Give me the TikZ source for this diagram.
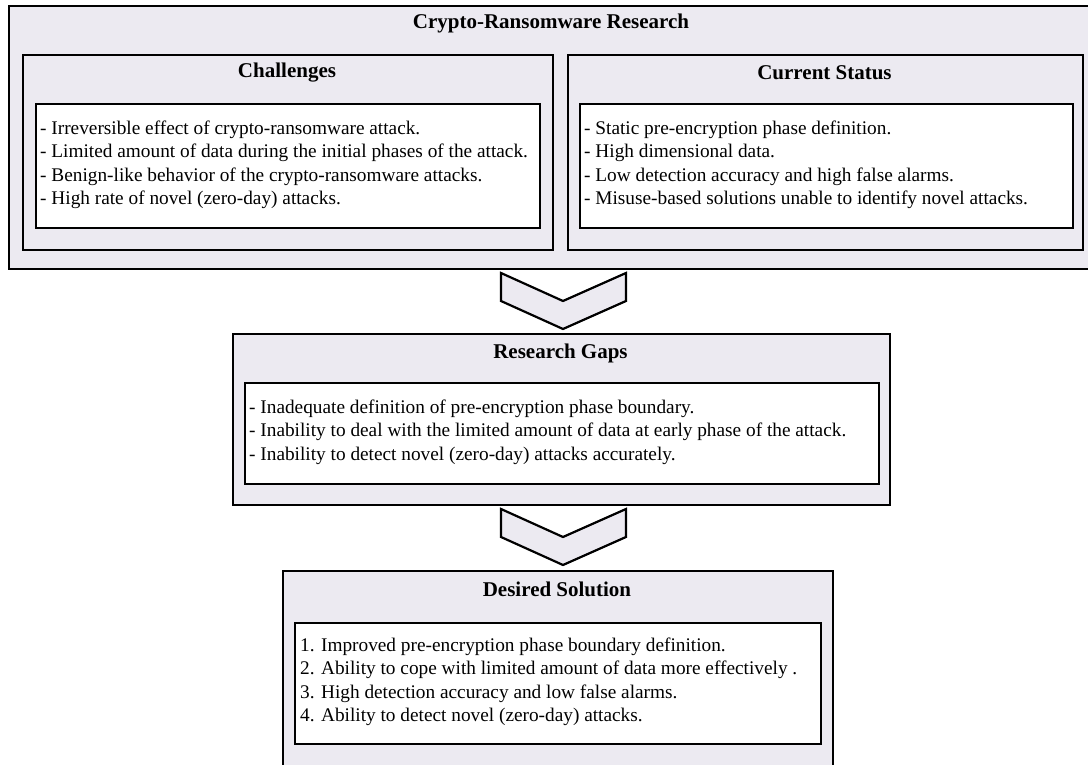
\documentclass[tikz,border=0pt]{standalone}
\usepackage{fontspec}
\setmainfont{Liberation Serif}
\definecolor{panel}{RGB}{236,234,241}
\begin{document}
\begin{tikzpicture}[x=1pt,y=-1pt,
  panelbox/.style={draw=black, line width=2.2pt, fill=panel, anchor=north west, inner sep=0pt},
  whitebox/.style={draw=black, line width=2.2pt, fill=white, anchor=north west, inner sep=0pt},
  ttl/.style={font=\fontsize{21}{24}\selectfont\bfseries, inner sep=0pt},
  body/.style={font=\fontsize{19.3}{23.5}\selectfont, align=left, anchor=west, inner sep=0pt},
  chev/.style={draw=black, line width=2.2pt, fill=panel, line join=miter}]
\useasboundingbox (0,0) rectangle (1088,765);
% outer panel
\node[panelbox, minimum width=1086pt, minimum height=263pt] (outer) at (8,5) {};
\node[ttl] (outerT) at (551,23) {Crypto-Ransomware Research};
% challenges
\node[panelbox, minimum width=530pt, minimum height=195pt] (chal) at (22,54) {};
\node[ttl] (chalT) at (287,73) {Challenges};
\node[whitebox, minimum width=504pt, minimum height=124pt] (chalW) at (35,103) {};
\node[body] (chalX) at (40,165) {- Irreversible effect of crypto-ransomware attack.\\
- Limited amount of data during the initial phases of the attack.\\
- Benign-like behavior of the crypto-ransomware attacks.\\
- High rate of novel (zero-day) attacks.};
% current status
\node[panelbox, minimum width=515pt, minimum height=195pt] (cur) at (567,54) {};
\node[ttl] (curT) at (824.5,73) {Current Status};
\node[whitebox, minimum width=493pt, minimum height=124pt] (curW) at (579,103) {};
\node[body] (curX) at (584,165) {- Static pre-encryption phase definition.\\
- High dimensional data.\\
- Low detection accuracy and high false alarms.\\
- Misuse-based solutions unable to identify novel attacks.};
% research gaps
\node[panelbox, minimum width=657pt, minimum height=171pt] (gaps) at (232,333) {};
\node[ttl] (gapsT) at (560.5,353) {Research Gaps};
\node[whitebox, minimum width=634pt, minimum height=101pt] (gapsW) at (244,382) {};
\node[body] (gapsX) at (249,432) {- Inadequate definition of pre-encryption phase boundary.\\
- Inability to deal with the limited amount of data at early phase of the attack.\\
- Inability to detect novel (zero-day) attacks accurately.};
% desired solution
\node[panelbox, minimum width=550pt, minimum height=222pt] (des) at (282,570) {};
\node[ttl] (desT) at (557,589) {Desired Solution};
\node[whitebox, minimum width=526pt, minimum height=121pt] (desW) at (294,622) {};
\node[body] (desX) at (300,682) {1. Improved pre-encryption phase boundary definition.\\
2. Ability to cope with limited amount of data more effectively .\\
3. High detection accuracy and low false alarms.\\
4. Ability to detect novel (zero-day) attacks.};
% chevrons
\draw[chev] (501,273) -- (563,301) -- (626,273) -- (626,301) -- (563,329) -- (501,301) -- cycle;
\draw[chev] (501,509) -- (563,537) -- (626,509) -- (626,537) -- (563,565) -- (501,537) -- cycle;
\end{tikzpicture}
\end{document}
